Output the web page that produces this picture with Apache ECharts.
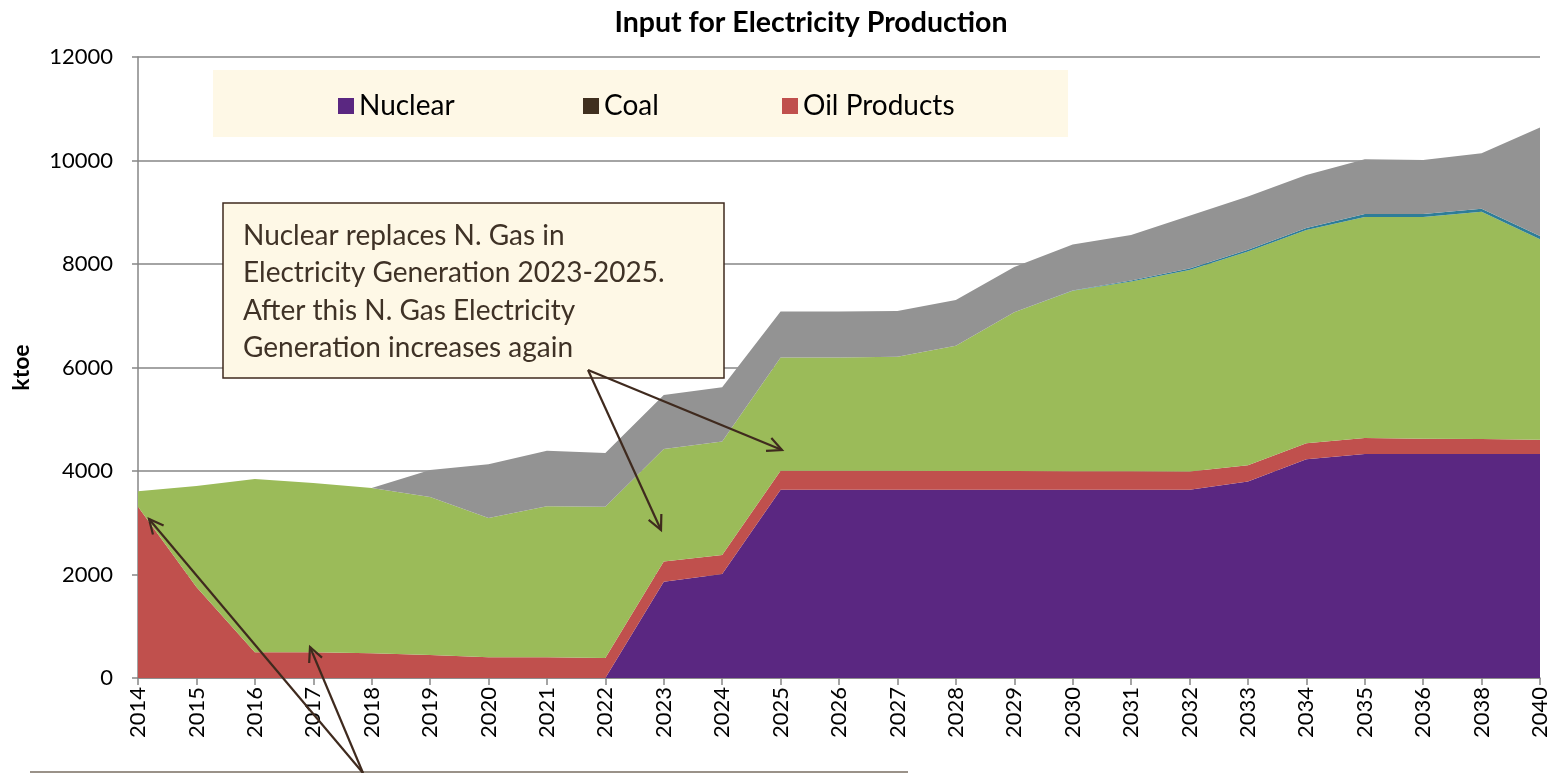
<!DOCTYPE html>
<html>
<head>
<meta charset="utf-8">
<script src="https://cdn.jsdelivr.net/npm/echarts@6/dist/echarts.min.js"></script>
<style>
  html, body { margin: 0; padding: 0; background: #fff; }
  #main { width: 1557px; height: 773px; }
</style>
</head>
<body>
<div id="main"></div>
<script>
// categories (2037 and 2039 are not in the source table)
const years = ['2014', '2015', '2016', '2017', '2018', '2019', '2020', '2021', '2022', '2023', '2024', '2025',
  '2026', '2027', '2028', '2029', '2030', '2031', '2032', '2033', '2034', '2035', '2036', '2038', '2040'];

// ktoe
const nuclear = [0, 0, 0, 0, 0, 0, 0, 0, 0, 1860, 2010, 3640, 3640, 3640, 3640, 3640, 3640, 3640, 3640, 3795, 4225, 4330, 4330, 4330, 4330];
const coal = [0, 0, 0, 0, 0, 0, 0, 0, 0, 0, 0, 0, 0, 0, 0, 0, 0, 0, 0, 0, 0, 0, 0, 0, 0];
const oilProducts = [3310, 1760, 500, 500, 480, 445, 400, 400, 385, 390, 365, 365, 365, 365, 360, 360, 355, 355, 350, 315, 310, 310, 295, 290, 275];
const naturalGas = [300, 1950, 3345, 3270, 3190, 3055, 2690, 2920, 2925, 2175, 2195, 2190, 2190, 2205, 2420, 3070, 3490, 3665, 3895, 4130, 4120, 4270, 4285, 4390, 3875];
const hydro = [0, 0, 0, 0, 0, 0, 0, 0, 0, 0, 0, 0, 0, 0, 0, 0, 5, 20, 30, 35, 40, 55, 55, 60, 60];
const other = [0, 0, 0, 0, 0, 520, 1040, 1070, 1040, 1045, 1050, 885, 885, 880, 885, 870, 885, 880, 1015, 1030, 1025, 1060, 1045, 1070, 2100];

const yTicks = { min: 0, max: 12000, interval: 2000 };

const font = 'Lato, "Open Sans", sans-serif';
const arrowColor = '#3f2a1e';

function arrow(x1, y1, x2, y2) {
  // shaft plus an open V head at (x2, y2)
  let a = Math.atan2(y2 - y1, x2 - x1);
  let len = 16, spread = 0.45;
  let p1 = [x2 - len * Math.cos(a - spread), y2 - len * Math.sin(a - spread)];
  let p2 = [x2 - len * Math.cos(a + spread), y2 - len * Math.sin(a + spread)];
  return [
    { type: 'line', z: 100, shape: { x1: x1, y1: y1, x2: x2, y2: y2 }, style: { stroke: arrowColor, lineWidth: 2.2 } },
    { type: 'polyline', z: 100, shape: { points: [p1, [x2, y2], p2] }, style: { stroke: arrowColor, lineWidth: 2.2, fill: null } }
  ];
}

function area(name, data, color) {
  return {
    name: name,
    type: 'line',
    stack: 'total',
    data: data,
    showSymbol: false,
    symbol: 'none',
    lineStyle: { width: 0 },
    areaStyle: { color: color, opacity: 1 },
    itemStyle: { color: color },
    emphasis: { disabled: true }
  };
}

const myChart = echarts.init(document.getElementById('main'));
const legendText = { fontFamily: font, fontSize: 28, color: '#000' };

myChart.setOption({
  animation: false,
  title: {
    text: 'Input for Electricity Production',
    left: 806,
    top: 3,
    textAlign: 'center',
    textStyle: { fontFamily: font, fontSize: 28.5, fontWeight: 'bold', color: '#000' }
  },
  legend: [
    { left: 333, top: 87, data: ['Nuclear'], itemWidth: 16, itemHeight: 16, icon: 'rect', textStyle: legendText, selectedMode: false },
    { left: 578, top: 87, data: ['Coal'], itemWidth: 16, itemHeight: 16, icon: 'rect', textStyle: legendText, selectedMode: false },
    { left: 777, top: 87, data: ['Oil Products'], itemWidth: 16, itemHeight: 16, icon: 'rect', textStyle: legendText, selectedMode: false }
  ],
  grid: {
    left: 138,
    right: 17,
    top: 57,
    bottom: 95
  },
  xAxis: {
    type: 'category',
    data: years,
    boundaryGap: false,
    axisLine: { lineStyle: { color: '#868686', width: 1.5 } },
    axisTick: { show: true, interval: 0, length: 7, lineStyle: { color: '#868686', width: 1.5 } },
    axisLabel: {
      interval: 0,
      rotate: 90,
      margin: 9,
      fontFamily: font,
      fontSize: 22,
      color: '#000'
    },
    splitLine: { show: false }
  },
  yAxis: {
    type: 'value',
    min: yTicks.min,
    max: yTicks.max,
    interval: yTicks.interval,
    name: 'ktoe',
    nameLocation: 'middle',
    nameGap: 105,
    nameTextStyle: { fontFamily: font, fontSize: 23, fontWeight: 'bold', color: '#000' },
    axisLine: { show: true, lineStyle: { color: '#868686', width: 1.5 } },
    axisTick: { show: true, length: 6, lineStyle: { color: '#868686', width: 1.5 } },
    axisLabel: {
      margin: 25,
      fontFamily: font,
      fontSize: 22,
      color: '#000',
      formatter: function (v) {
        return String(v);
      }
    },
    splitLine: { lineStyle: { color: '#868686', width: 1.5 } }
  },
  series: [
    area('Nuclear', nuclear, '#5a2781'),
    area('Coal', coal, '#40301f'),
    area('Oil Products', oilProducts, '#c0504d'),
    area('N. Gas', naturalGas, '#9bbb59'),
    area('Hydro', hydro, '#2e7d98'),
    area('Other', other, '#939393')
  ],
  graphic: [
    // legend background
    { type: 'rect', z: 1, shape: { x: 213, y: 70, width: 855, height: 67 }, style: { fill: '#fef8e6' } },
    // note box
    {
      type: 'rect', z: 100,
      shape: { x: 223, y: 203, width: 501, height: 175 },
      style: { fill: '#fef8e6', stroke: '#3f2a1e', lineWidth: 1.5 }
    },
    {
      type: 'text', z: 101, left: 243, top: 217,
      style: {
        text: 'Nuclear replaces N. Gas in\nElectricity Generation 2023-2025.\nAfter this N. Gas Electricity\nGeneration increases again',
        fontFamily: font, fontSize: 28, lineHeight: 37.5, fill: '#3f3226'
      }
    },
    // top of a second note box, cut off at the bottom
    { type: 'line', z: 100, shape: { x1: 30, y1: 772, x2: 908, y2: 772 }, style: { stroke: '#9a9289', lineWidth: 2 } },
    ...arrow(588, 370, 661, 530),
    ...arrow(588, 370, 782, 450),
    ...arrow(363, 773, 149, 519),
    ...arrow(363, 773, 310, 647)
  ]
});

window.addEventListener('resize', () => {
  myChart.resize();
});
</script>
</body>
</html>
